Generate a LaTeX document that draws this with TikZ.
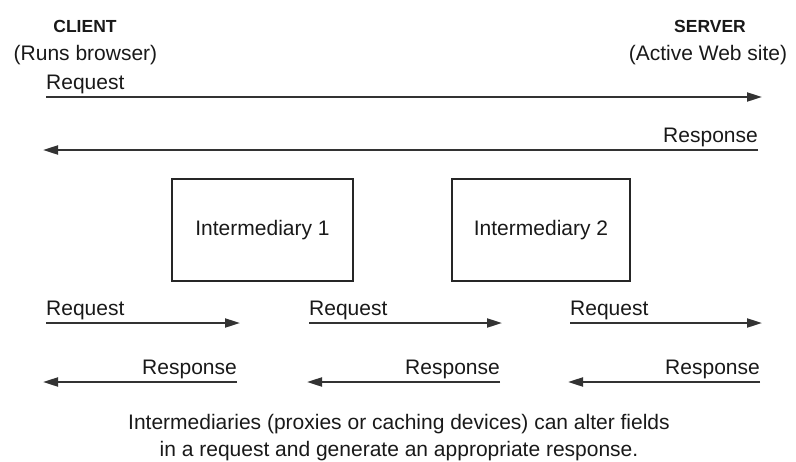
\documentclass[tikz,border=0pt]{standalone}
\usepackage{fontspec}
\setmainfont{Liberation Sans}
\usetikzlibrary{arrows.meta}
\begin{document}
\begin{tikzpicture}[x=1pt,y=-1pt,
  lbl/.style={font=\fontsize{21}{27}\selectfont, inner sep=0pt, text=black!90},
  hd/.style={font=\fontsize{17.5}{21}\selectfont\bfseries, inner sep=0pt, text=black!90},
  msg/.style={line width=2pt, draw=black!80, -{Triangle[length=15pt,width=9pt]}},
  ibox/.style={draw=black!85, line width=1.5pt, minimum height=102pt, inner sep=0pt,
    font=\fontsize{21}{25}\selectfont, text=black!90}]
\useasboundingbox (0,0) rectangle (796,461);

% headers
\node[hd] (client) at (85,26) {CLIENT};
\node[lbl] (clientsub) at (85.5,55) {(Runs browser)};
\node[hd] (server) at (710,26) {SERVER};
\node[lbl] (serversub) at (708,55) {(Active Web site)};

% top end-to-end exchange
\coordinate (rqA) at (46,97);
\coordinate (rqB) at (762,97);
\coordinate (rsA) at (758,150);
\coordinate (rsB) at (43,150);
\draw[msg] (rqA) -- (rqB);
\draw[msg] (rsA) -- (rsB);
\node[lbl, anchor=west] (rqL) at (46,84) {Request};
\node[lbl, anchor=east] (rsL) at (758,137) {Response};

% intermediaries
\node[ibox, minimum width=181pt] (im1) at (262.5,230) {\raisebox{-3pt}{Intermediary 1}};
\node[ibox, minimum width=178pt] (im2) at (541,230) {\raisebox{-3pt}{Intermediary 2}};

% hop-by-hop requests
\coordinate (q1a) at (46,323);  \coordinate (q1b) at (240,323);
\coordinate (q2a) at (309,323); \coordinate (q2b) at (502,323);
\coordinate (q3a) at (570,323); \coordinate (q3b) at (762,323);
\draw[msg] (q1a) -- (q1b);
\draw[msg] (q2a) -- (q2b);
\draw[msg] (q3a) -- (q3b);
\node[lbl, anchor=west] (q1L) at (46,310) {Request};
\node[lbl, anchor=west] (q2L) at (309,310) {Request};
\node[lbl, anchor=west] (q3L) at (570,310) {Request};

% hop-by-hop responses
\coordinate (r1a) at (237,382); \coordinate (r1b) at (43,382);
\coordinate (r2a) at (500,382); \coordinate (r2b) at (307,382);
\coordinate (r3a) at (760,382); \coordinate (r3b) at (568,382);
\draw[msg] (r1a) -- (r1b);
\draw[msg] (r2a) -- (r2b);
\draw[msg] (r3a) -- (r3b);
\node[lbl, anchor=east] (r1L) at (237,369) {Response};
\node[lbl, anchor=east] (r2L) at (500,369) {Response};
\node[lbl, anchor=east] (r3L) at (760,369) {Response};

% caption
\node[lbl, align=center] (cap) at (399,438) {Intermediaries (proxies or caching devices) can alter fields\\in a request and generate an appropriate response.};
\end{tikzpicture}
\end{document}
